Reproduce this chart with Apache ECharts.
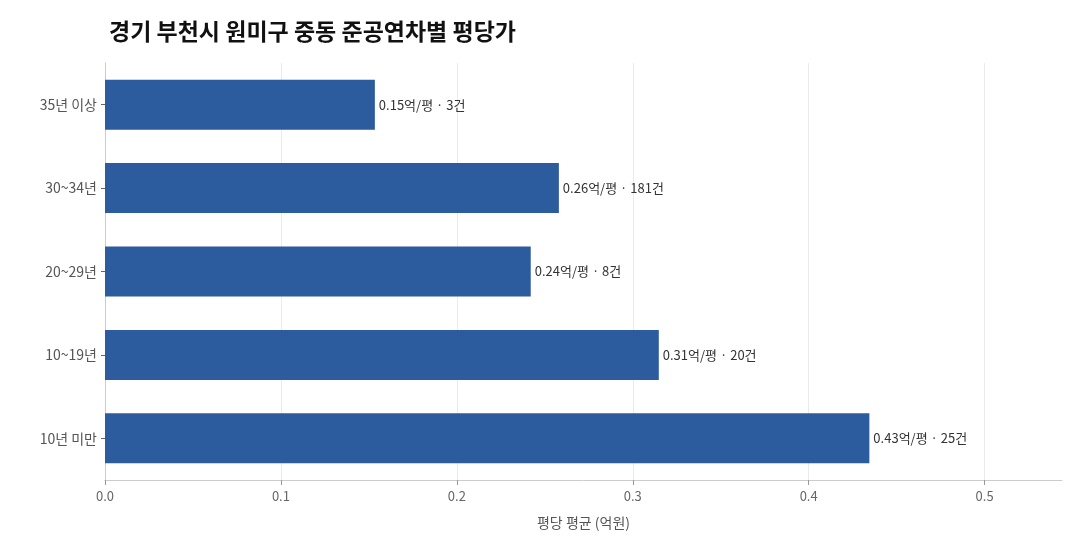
<!DOCTYPE html>
<html><head><meta charset="utf-8">
<script src="https://cdn.jsdelivr.net/npm/echarts@6/dist/echarts.min.js"></script>
<style>html,body{margin:0;padding:0;background:#fff}#c{width:1080px;height:552px}</style>
</head><body><div id="c"></div>
<script>
const categories = ['10년 미만', '10~19년', '20~29년', '30~34년', '35년 이상'];
const avgPrice = [0.4345, 0.3148, 0.242, 0.258, 0.1534];
const counts = [25, 20, 8, 181, 3];
const xTicks = [0, 0.1, 0.2, 0.3, 0.4, 0.5];

const font = "'Noto Sans CJK KR', 'Noto Sans', sans-serif";
const g = '#ebebeb';
const chart = echarts.init(document.getElementById('c'));
chart.setOption({
  backgroundColor: '#fff',
  title: {
    text: '경기 부천시 원미구 중동 준공연차별 평당가',
    left: 104, top: 15,
    textStyle: { fontFamily: font, fontSize: 23, fontWeight: 'bold', color: '#111' }
  },
  grid: { left: 105, right: 18, top: 63, bottom: 72 },
  xAxis: {
    type: 'value', min: 0, max: 0.544, interval: 0.1,
    name: '평당 평균 (억원)', nameLocation: 'middle', nameGap: 36,
    nameTextStyle: { fontFamily: font, fontSize: 14, color: '#555' },
    axisLine: { show: true, lineStyle: { color: '#ccc' } },
    axisTick: { show: true, length: 5, lineStyle: { color: '#999' } },
    axisLabel: { fontFamily: font, fontSize: 13, color: '#666', margin: 10, showMaxLabel: false,
      formatter: v => xTicks.some(t => Math.abs(t - v) < 1e-9) ? v.toFixed(1) : '' },
    splitLine: { show: true, lineStyle: { color: [g, g, g, g, g, g, 'rgba(0,0,0,0)'] } }
  },
  yAxis: {
    type: 'category', data: categories,
    axisLine: { show: true, lineStyle: { color: '#ccc' } },
    axisTick: { show: true, alignWithLabel: true, length: 4, lineStyle: { color: '#666' } },
    axisLabel: { fontFamily: font, fontSize: 14, color: '#555', margin: 8 },
    splitLine: { show: false }
  },
  series: [{
    type: 'bar',
    data: avgPrice,
    barWidth: '60%',
    itemStyle: { color: '#2c5b9e' },
    label: {
      show: true, position: 'right', distance: 4,
      fontFamily: font, fontSize: 13, color: '#333',
      formatter: p => p.value.toFixed(2) + '억/평 · ' + counts[p.dataIndex] + '건'
    }
  }]
});
</script></body></html>
